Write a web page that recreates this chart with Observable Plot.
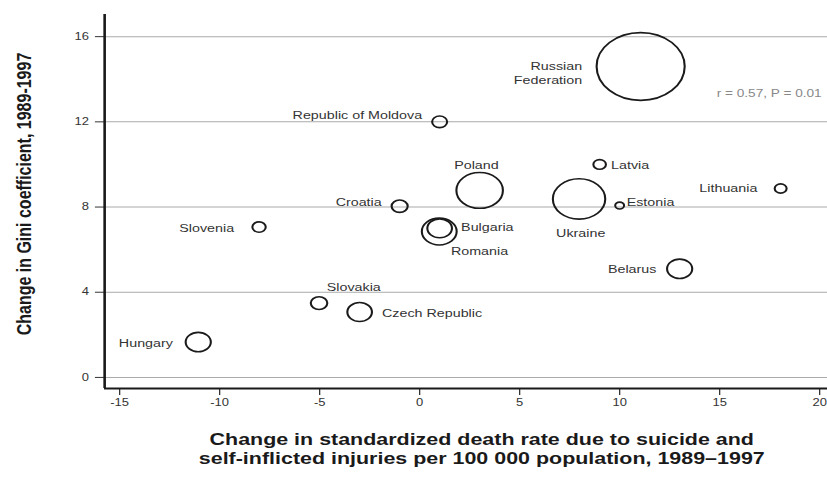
<!DOCTYPE html>
<html>
<head>
<meta charset="utf-8">
<script src="https://cdn.jsdelivr.net/npm/d3@7"></script>
<script src="https://cdn.jsdelivr.net/npm/@observablehq/plot@0.6"></script>
<style>
  html, body { margin: 0; padding: 0; background: #fff; }
  #chart svg { display: block; }
</style>
</head>
<body>
<div id="chart"></div>
<script>
// ---- Data ----
const countries = [
  "Russian Federation", "Republic of Moldova", "Poland", "Latvia", "Lithuania",
  "Ukraine", "Estonia", "Croatia", "Slovenia", "Bulgaria", "Romania",
  "Belarus", "Slovakia", "Czech Republic", "Hungary"
];
const deathRateChange = [11.05, 1.0, 3.0, 9.0, 18.05, 7.97, 10.0, -1.0, -8.03, 1.0, 0.98, 13.0, -5.03, -3.0, -11.07];
const giniChange      = [14.6, 12.0, 8.78, 10.0, 8.87, 8.38, 8.07, 8.04, 7.06, 7.0, 6.85, 5.1, 3.49, 3.07, 1.66];
const population      = [147, 4.3, 41, 3.0, 2.7, 52, 1.5, 4.9, 3.4, 11.5, 23, 12, 5.2, 11.5, 12];

const xTicks = [-15, -10, -5, 0, 5, 10, 15, 20];
const yTicks = [0, 4, 8, 12, 16];

const xTitle = "Change in standardized death rate due to suicide and\nself-inflicted injuries per 100 000 population, 1989\u20131997";
const yTitle = "Change in Gini coefficient, 1989-1997";
const statText = "r = 0.57, P = 0.01";
const statX = 14.85, statY = 13.33;

// label placement (style): anchor and pixel offsets from the bubble centre
const labelPlacement = {
  "Russian Federation":  {text: "Russian\nFederation", anchor: "end", dx: -45, dy: 6},
  "Republic of Moldova": {anchor: "end", dx: -13.5, dy: -7.7},
  "Poland":              {anchor: "middle", dx: -2.5, dy: -26},
  "Latvia":              {anchor: "start", dx: 8.8, dy: 0},
  "Lithuania":           {anchor: "end", dx: -17.9, dy: -0.6},
  "Ukraine":             {anchor: "middle", dx: 1.3, dy: 34},
  "Estonia":             {anchor: "start", dx: 5.4, dy: -4.3},
  "Croatia":             {anchor: "end", dx: -13.8, dy: -5},
  "Slovenia":            {anchor: "end", dx: -19.2, dy: 0.6},
  "Bulgaria":            {anchor: "start", dx: 16.5, dy: -1.5},
  "Romania":             {anchor: "middle", dx: 31, dy: 19},
  "Belarus":             {anchor: "end", dx: -17.9, dy: 0},
  "Slovakia":            {anchor: "middle", dx: 26.7, dy: -16},
  "Czech Republic":      {anchor: "start", dx: 17.2, dy: 1},
  "Hungary":             {anchor: "end", dx: -19.5, dy: 0.6}
};

const data = countries.map((c, i) => ({country: c, x: deathRateChange[i], y: giniChange[i], pop: population[i]}));

// ---- Layout ----
const W = 827, H = 483, S = 1.3;   // reference is stretched horizontally
const w = W / S;
const xDomain = [-15.75, 20.4];
const yDomain = [-0.52, 17.04];
const font = "'Liberation Sans', Arial, Helvetica, sans-serif";

const labelMarks = countries.map(c => {
  const p = labelPlacement[c];
  return Plot.text(data.filter(d => d.country === c), {
    x: "x", y: "y", text: () => p.text ?? c,
    textAnchor: p.anchor, dx: p.dx, dy: p.dy,
    fontSize: 11, fill: "#333", lineHeight: 1.25
  });
});

const svg = Plot.plot({
  width: w, height: H,
  marginLeft: 80, marginRight: 0, marginTop: 14, marginBottom: 95,
  style: {fontFamily: font, fontSize: "10px", color: "#333", background: "#fff", overflow: "visible"},
  x: {domain: xDomain, ticks: xTicks, tickSize: 7, tickPadding: 3, label: null, tickFormat: d => String(d)},
  y: {domain: yDomain, ticks: yTicks, tickSize: 7, tickPadding: 5, label: null, tickFormat: d => String(d)},
  r: {type: "sqrt", domain: [0, 148], range: [0, 34]},
  marks: [
    Plot.ruleY(yTicks, {stroke: "#aaa", strokeWidth: 1}),
    Plot.ruleY([yDomain[0]], {stroke: "#1a1a1a", strokeWidth: 2}),
    Plot.ruleX([xDomain[0]], {stroke: "#1a1a1a", strokeWidth: 2}),
    Plot.dot(data, {x: "x", y: "y", r: "pop", stroke: "#1a1a1a", strokeWidth: 1.6, fill: "none"}),
    ...labelMarks,
    Plot.text([{x: statX, y: statY, t: statText}], {x: "x", y: "y", text: "t", textAnchor: "start", fill: "#888", fontSize: 10.5}),
    Plot.text([yTitle], {text: d => d, frameAnchor: "left", textAnchor: "middle", rotate: -90, dx: -62, dy: -7.5, fontWeight: "bold", fontSize: 16, fill: "#1a1a1a"}),
    Plot.text([xTitle], {text: d => d, frameAnchor: "bottom", textAnchor: "middle", dx: 12, dy: 75, lineHeight: 1.1, fontWeight: "bold", fontSize: 16.5, fill: "#1a1a1a"})
  ]
});

svg.setAttribute("viewBox", `0 0 ${w} ${H}`);
svg.setAttribute("preserveAspectRatio", "none");
svg.setAttribute("width", W);
svg.setAttribute("height", H);
svg.style.width = W + "px";
svg.style.height = H + "px";
svg.style.maxWidth = "none";
document.getElementById("chart").appendChild(svg);
</script>
</body>
</html>
